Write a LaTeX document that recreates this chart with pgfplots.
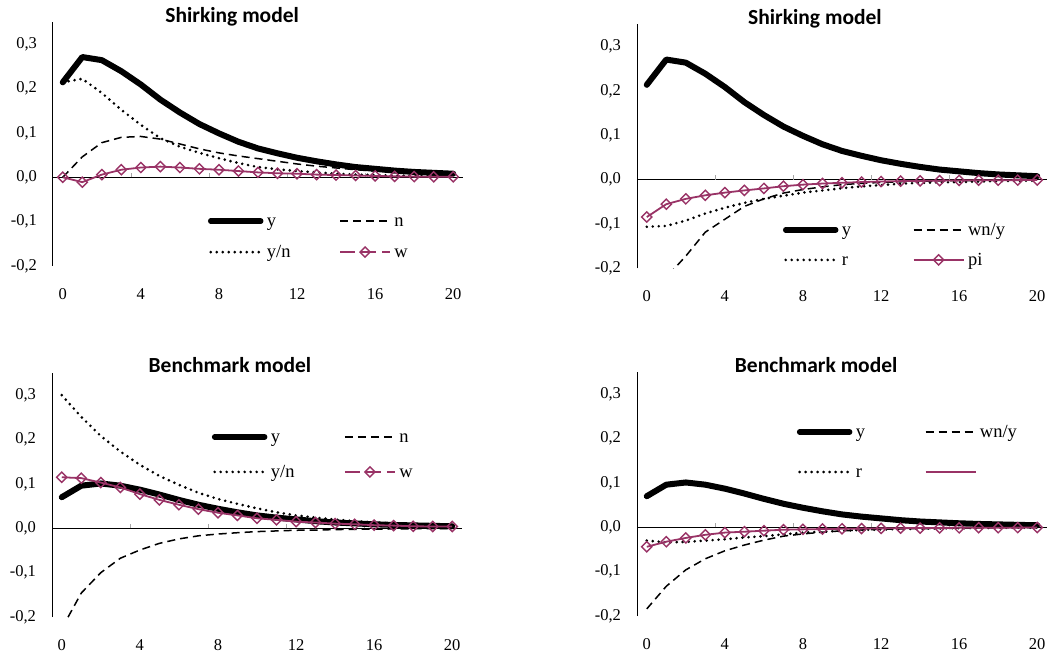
\documentclass[border=0pt]{standalone}
\usepackage{pgfplots}
\usepackage{pgfplotstable}
\pgfplotsset{compat=1.18}
\usepackage{fontspec}
\setmainfont{Liberation Serif}
\newfontfamily\titlefont{Carlito}
\definecolor{pur}{RGB}{153,51,102}

\pgfplotstableread{
t y n yn w
0 0.214 0.000 0.214 0.000
1 0.271 0.046 0.222 -0.011
2 0.264 0.078 0.190 0.006
3 0.239 0.090 0.152 0.017
4 0.209 0.092 0.118 0.022
5 0.175 0.086 0.088 0.024
6 0.146 0.075 0.069 0.022
7 0.120 0.064 0.055 0.019
8 0.099 0.055 0.043 0.017
9 0.080 0.048 0.032 0.014
10 0.065 0.042 0.023 0.011
11 0.054 0.036 0.018 0.009
12 0.044 0.030 0.014 0.008
13 0.036 0.025 0.011 0.006
14 0.029 0.021 0.008 0.005
15 0.023 0.017 0.006 0.004
16 0.019 0.014 0.005 0.003
17 0.015 0.012 0.004 0.002
18 0.012 0.010 0.003 0.0015
19 0.010 0.008 0.002 0.001
20 0.008 0.006 0.002 0.001
}\shirkA

\pgfplotstableread{
t y wny r pi
0 0.214 -0.320 -0.106 -0.084
1 0.271 -0.220 -0.104 -0.055
2 0.264 -0.172 -0.092 -0.043
3 0.239 -0.118 -0.076 -0.035
4 0.209 -0.089 -0.063 -0.029
5 0.175 -0.060 -0.052 -0.024
6 0.146 -0.043 -0.043 -0.0195
7 0.120 -0.030 -0.036 -0.0145
8 0.099 -0.022 -0.029 -0.011
9 0.080 -0.016 -0.024 -0.0085
10 0.065 -0.011 -0.019 -0.0068
11 0.054 -0.008 -0.015 -0.0052
12 0.044 -0.006 -0.012 -0.004
13 0.036 -0.0045 -0.009 -0.003
14 0.029 -0.0035 -0.007 -0.0025
15 0.023 -0.0025 -0.006 -0.002
16 0.019 -0.002 -0.005 -0.0015
17 0.015 -0.0015 -0.004 -0.001
18 0.012 -0.001 -0.003 -0.001
19 0.010 -0.001 -0.0025 -0.0008
20 0.008 -0.001 -0.002 -0.0005
}\shirkB

\pgfplotstableread{
t y n yn w
0 0.070 -0.226 0.300 0.115
1 0.096 -0.146 0.251 0.113
2 0.101 -0.100 0.208 0.103
3 0.096 -0.0675 0.173 0.092
4 0.087 -0.049 0.143 0.077
5 0.076 -0.034 0.118 0.064
6 0.064 -0.024 0.098 0.053
7 0.053 -0.017 0.080 0.043
8 0.044 -0.013 0.066 0.035
9 0.036 -0.010 0.055 0.029
10 0.029 -0.0075 0.045 0.0225
11 0.024 -0.006 0.036 0.019
12 0.020 -0.0045 0.029 0.015
13 0.016 -0.004 0.024 0.013
14 0.013 -0.003 0.0195 0.0105
15 0.011 -0.0023 0.016 0.009
16 0.009 -0.002 0.013 0.007
17 0.0075 -0.0015 0.0105 0.006
18 0.0065 -0.001 0.008 0.0045
19 0.0055 -0.001 0.007 0.004
20 0.0045 -0.001 0.006 0.004
}\benchA

\pgfplotstableread{
t y wny r pi
0 0.070 -0.184 -0.030 -0.044
1 0.096 -0.133 -0.034 -0.0325
2 0.101 -0.096 -0.033 -0.024
3 0.096 -0.071 -0.030 -0.017
4 0.087 -0.053 -0.027 -0.012
5 0.076 -0.040 -0.023 -0.010
6 0.064 -0.029 -0.020 -0.0077
7 0.053 -0.020 -0.016 -0.0055
8 0.044 -0.015 -0.012 -0.0047
9 0.036 -0.011 -0.010 -0.004
10 0.029 -0.008 -0.008 -0.0035
11 0.024 -0.006 -0.006 -0.003
12 0.020 -0.0045 -0.005 -0.0025
13 0.016 -0.0035 -0.004 -0.002
14 0.013 -0.003 -0.003 -0.0018
15 0.011 -0.0025 -0.0025 -0.0015
16 0.009 -0.002 -0.002 -0.0012
17 0.0075 -0.0015 -0.0015 -0.001
18 0.0065 -0.001 -0.001 -0.001
19 0.0055 -0.001 -0.001 -0.0008
20 0.0045 -0.001 -0.001 -0.0006
}\benchB

\pgfplotsset{
  irf/.style={
    scale only axis, width=410pt, height=244pt,
    anchor=south west,
    xmin=-0.5, xmax=20.5, ymin=-0.2, ymax=0.35,
    enlargelimits=false,
    axis y line*=left, axis x line*=bottom,
    x axis line style={draw=none},
    y axis line style={black, line width=1pt, -},
    xtick={0,4,8,12,16,20},
    ytick={-0.2,-0.1,0,0.1,0.2,0.3},
    major tick length=0pt,
    scaled y ticks=false,
    /pgf/number format/assume math mode=true,
    tick label style={font=\fontsize{16.5}{18}\selectfont, black},
    yticklabel style={/pgf/number format/.cd, fixed, fixed zerofill, precision=1, use comma, assume math mode=true, /tikz/.cd, xshift=-12.5pt},
    xticklabel style={anchor=base, yshift=-33.5pt},
    title style={font=\titlefont\bfseries\fontsize{21.5}{24}\selectfont, anchor=base},
    legend columns=2,
    legend cell align=left,
    legend style={draw=none, fill=none, inner sep=0pt, outer sep=0pt,
      font=\fontsize{18.5}{20}\selectfont,
      nodes={inner sep=1.5pt, text height=14pt, text depth=3pt},
      column sep=2pt,
      anchor=north west},
    legend image code/.code={\draw[mark repeat=2,mark phase=2,##1] plot coordinates {(0pt,0pt) (25pt,0pt) (50pt,0pt)};},
  },
  ys/.style={black, line width=6pt, line cap=round, line join=round, mark=none, legend image post style={line width=5.5pt}},
  ds/.style={black, line width=1.5pt, dash pattern=on 8pt off 5pt, mark=none},
  os/.style={black, line width=2.9pt, line cap=round, dash pattern=on 0pt off 6pt, mark=none},
  ps/.style={pur, line width=1.8pt, mark=square, mark size=3.6pt, mark options={solid, rotate=45, fill=white, line width=1.4pt}},
}

\newcommand{\zeroaxis}{%
  \addplot[black, line width=1.1pt, forget plot] coordinates {(-0.5,0) (20.5,0)};
  \draw[gray!70, line width=0.9pt] (axis cs:3.5,0) -- ++(0pt,4.5pt);
  \draw[gray!70, line width=0.9pt] (axis cs:7.5,0) -- ++(0pt,4.5pt);
  \draw[gray!70, line width=0.9pt] (axis cs:11.5,0) -- ++(0pt,4.5pt);
  \draw[gray!70, line width=0.9pt] (axis cs:15.5,0) -- ++(0pt,4.5pt);
  \draw[gray!70, line width=0.9pt] (axis cs:19.5,0) -- ++(0pt,4.5pt);
}

\begin{document}
\begin{tikzpicture}
\useasboundingbox (0,0) rectangle (1053pt,657pt);

% top left
\begin{axis}[irf, at={(53pt,391pt)},
  title={Shirking model}, title style={at={(axis description cs:0.437,1)}, yshift=-7pt},
  legend style={at={(axis description cs:0.378,0.225)}, row sep=11pt,
    /tikz/every even column/.append style={column sep=47pt}}]
\zeroaxis
\addplot[ys] table[x=t,y=y] {\shirkA}; \addlegendentry{y}
\addplot[ds] table[x=t,y=n] {\shirkA}; \addlegendentry{n}
\addplot[os] table[x=t,y=yn] {\shirkA}; \addlegendentry{y/n}
\addplot[ps, legend image post style={dash pattern=on 15pt off 6pt}] table[x=t,y=w] {\shirkA}; \addlegendentry{w}
\end{axis}

% top right
\begin{axis}[irf, at={(637pt,388.5pt)},
  title={Shirking model}, title style={at={(axis description cs:0.434,1)}, yshift=-6pt},
  legend style={at={(axis description cs:0.356,0.199)}, row sep=10pt,
    /tikz/every even column/.append style={column sep=60pt}}]
\zeroaxis
\addplot[ys] table[x=t,y=y] {\shirkB}; \addlegendentry{y}
\addplot[ds] table[x=t,y=wny] {\shirkB}; \addlegendentry{wn/y}
\addplot[os] table[x=t,y=r] {\shirkB}; \addlegendentry{r}
\addplot[ps] table[x=t,y=pi] {\shirkB}; \addlegendentry{pi}
\end{axis}

% bottom left
\begin{axis}[irf, at={(52pt,40pt)},
  title={Benchmark model}, title style={at={(axis description cs:0.434,1)}, yshift=-5pt},
  legend style={at={(axis description cs:0.390,0.779)}, row sep=15pt,
    /tikz/every even column/.append style={column sep=48pt}}]
\zeroaxis
\addplot[ys] table[x=t,y=y] {\benchA}; \addlegendentry{y}
\addplot[ds] table[x=t,y=n] {\benchA}; \addlegendentry{n}
\addplot[os] table[x=t,y=yn] {\benchA}; \addlegendentry{y/n}
\addplot[ps, legend image post style={dash pattern=on 15pt off 6pt}] table[x=t,y=w] {\benchA}; \addlegendentry{w}
\end{axis}

% bottom right
\begin{axis}[irf, at={(637pt,41pt)},
  title={Benchmark model}, title style={at={(axis description cs:0.437,1)}, yshift=-6pt},
  legend style={at={(axis description cs:0.390,0.795)}, row sep=20pt,
    /tikz/every even column/.append style={column sep=58pt}}]
\zeroaxis
\addplot[ys] table[x=t,y=y] {\benchB}; \addlegendentry{y}
\addplot[ds] table[x=t,y=wny] {\benchB}; \addlegendentry{wn/y}
\addplot[os] table[x=t,y=r] {\benchB}; \addlegendentry{r}
\addplot[ps, legend image post style={mark=none}] table[x=t,y=pi] {\benchB}; \addlegendentry{}
\end{axis}
\end{tikzpicture}
\end{document}
